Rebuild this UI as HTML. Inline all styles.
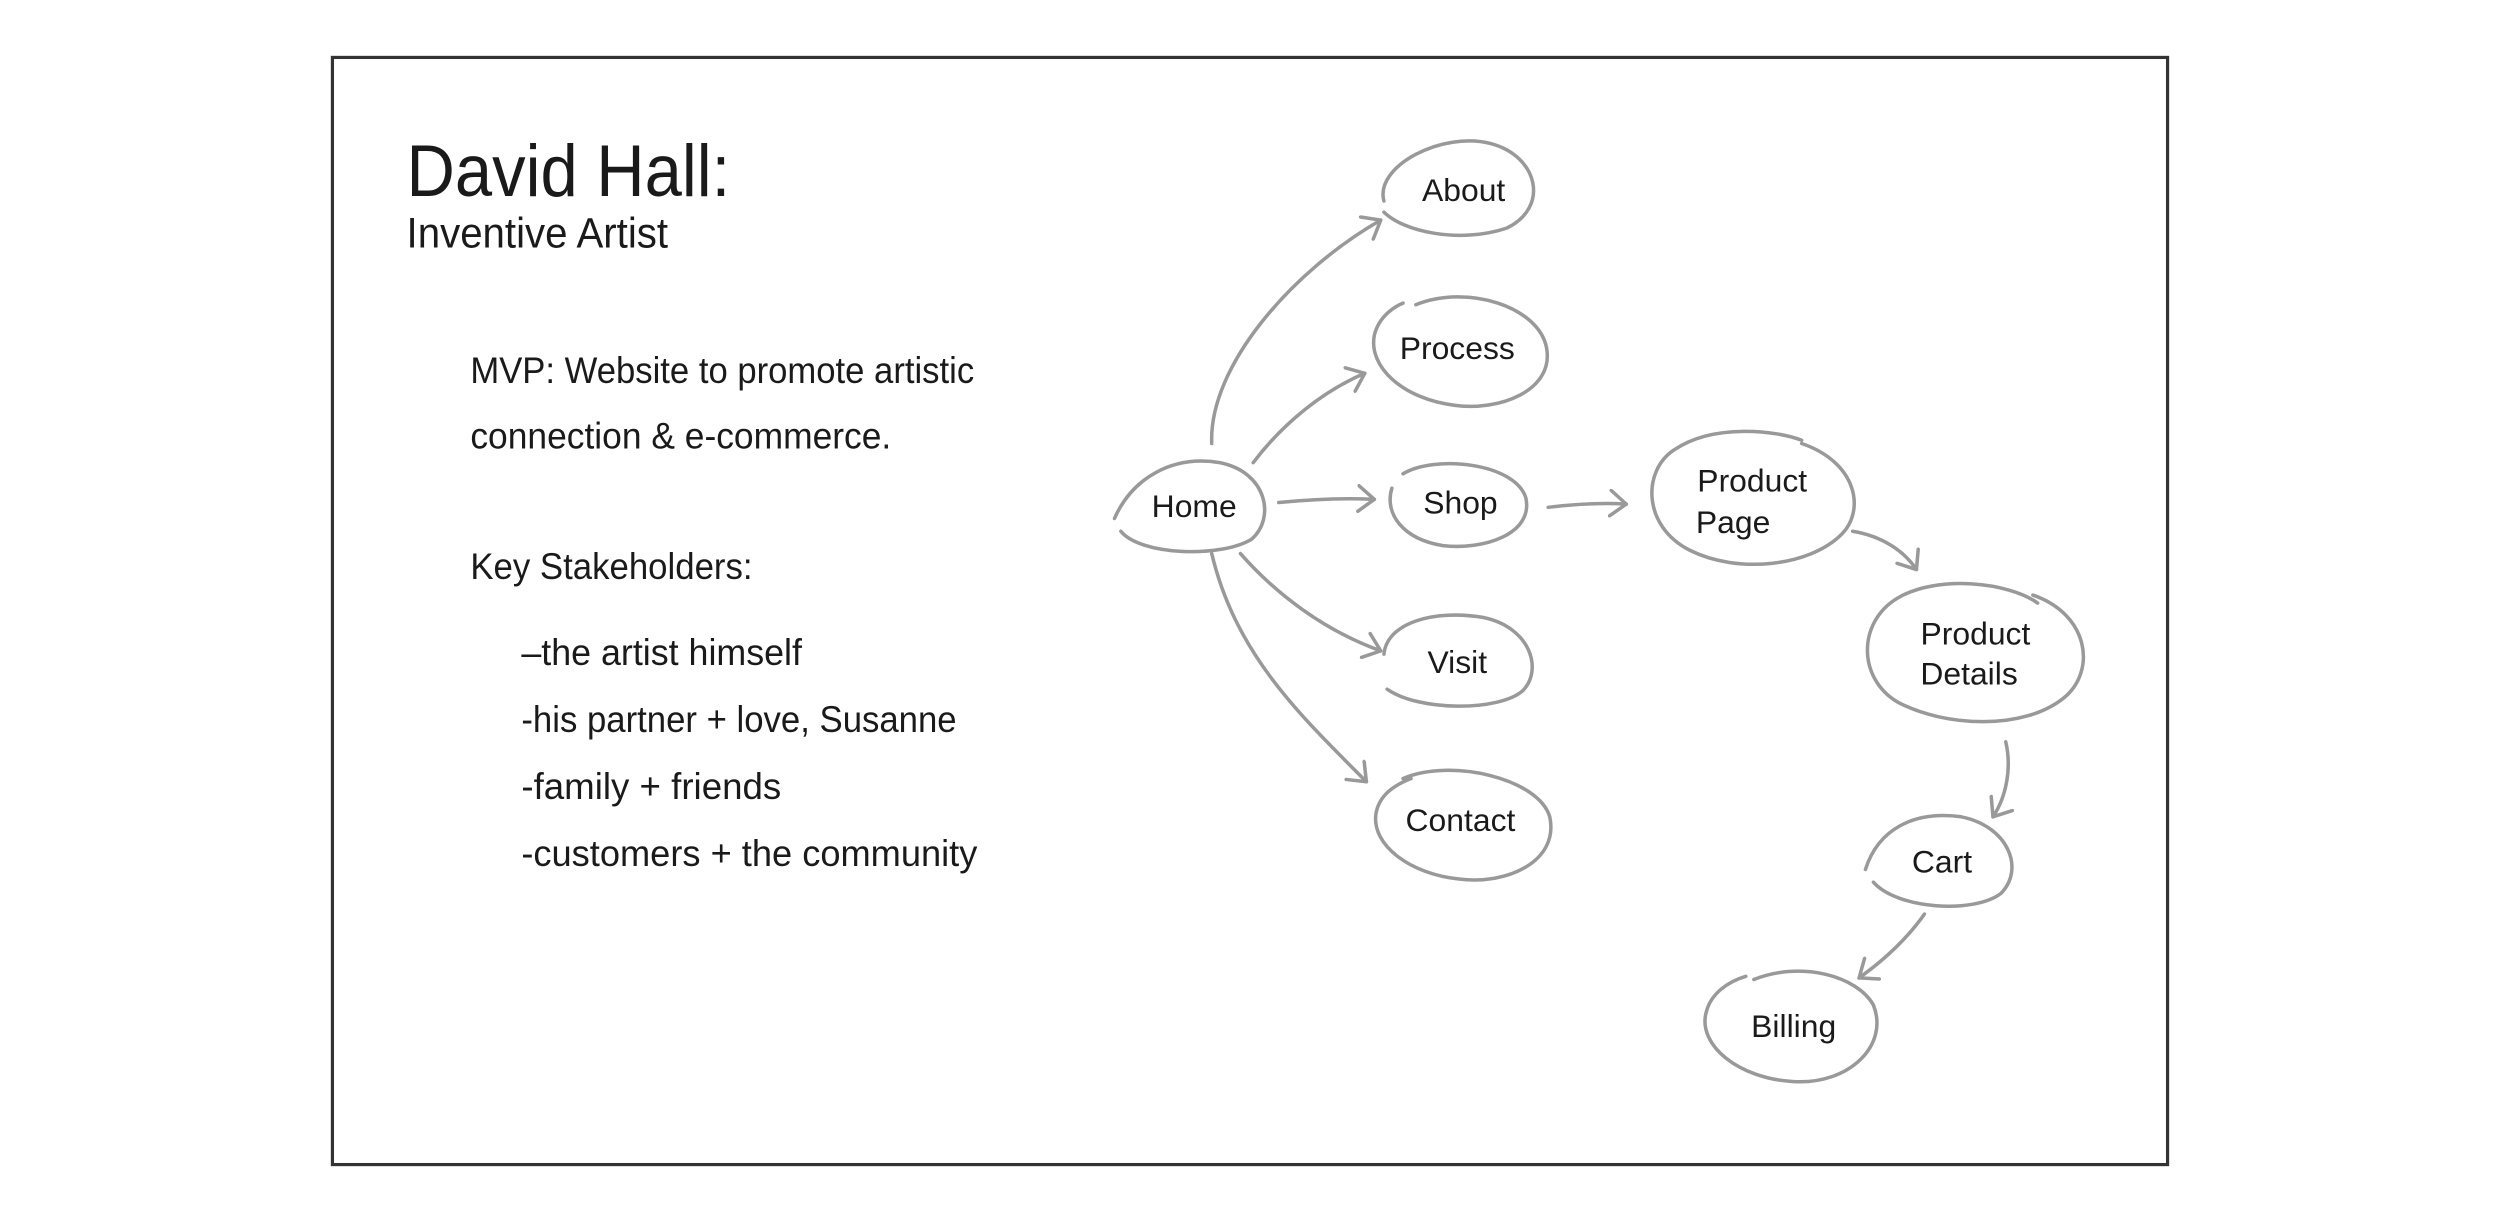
<!DOCTYPE html>
<html><head><meta charset="utf-8"><style>
html,body{margin:0;padding:0;background:#fff;width:2500px;height:1222px;overflow:hidden}
svg{display:block}
text{font-family:"Liberation Sans",sans-serif;fill:#1a1a1a}
</style></head><body>
<svg width="2500" height="1222" viewBox="0 0 1568 766" preserveAspectRatio="none" xmlns="http://www.w3.org/2000/svg">
<defs>
<marker id="a" markerWidth="16" markerHeight="18" refX="11" refY="9" orient="auto" markerUnits="userSpaceOnUse">
<path d="M1,1 L11,9 L1,17" fill="none" stroke="#999" stroke-width="2.2" stroke-linecap="round" stroke-linejoin="round"/>
</marker>
</defs>
<rect x="208.5" y="36" width="1151" height="694" fill="none" stroke="#333" stroke-width="2"/>

<text x="255" y="123" font-size="46" textLength="203" lengthAdjust="spacingAndGlyphs">David Hall:</text>
<text x="255" y="155" font-size="27" textLength="164" lengthAdjust="spacingAndGlyphs">Inventive Artist</text>
<text x="295" y="240" font-size="23" textLength="316" lengthAdjust="spacingAndGlyphs"><tspan>MVP:</tspan> Website to promote artistic</text>
<text x="295" y="281" font-size="23" textLength="264" lengthAdjust="spacingAndGlyphs">connection &amp; e-commerce.</text>
<text x="295" y="363" font-size="23" textLength="177" lengthAdjust="spacingAndGlyphs">Key Stakeholders:</text>
<text x="327" y="417" font-size="23" textLength="176" lengthAdjust="spacingAndGlyphs">–the artist himself</text>
<text x="327" y="459" font-size="23" textLength="273" lengthAdjust="spacingAndGlyphs">-his partner + love, Susanne</text>
<text x="327" y="501" font-size="23" textLength="163" lengthAdjust="spacingAndGlyphs">-family + friends</text>
<text x="327" y="543" font-size="23" textLength="286" lengthAdjust="spacingAndGlyphs">-customers + the community</text>

<g fill="none" stroke="#999" stroke-width="2.2" stroke-linecap="round">
<path d="M868,126 C862,104 905,82 935,90 C965,98 972,130 945,143 C915,153 880,145 868,133"/>
<path d="M888,191 C920,178 965,192 970,218 C975,245 940,258 912,254 C880,250 858,230 862,210 C865,198 875,192 880,190"/>
<path d="M880,297 C900,285 950,290 957,312 C962,335 930,345 905,342 C880,338 868,322 873,306"/>
<path d="M868,410 C870,390 900,382 930,387 C960,393 968,420 955,433 C940,446 890,446 870,432"/>
<path d="M880,488 C910,475 965,488 972,512 C978,540 945,555 915,551 C885,548 860,530 863,510 C865,498 875,492 885,488"/>
<path d="M699,325 C710,300 735,285 765,290 C795,296 800,325 785,338 C765,350 715,348 703,333"/>
<path d="M1130,278 C1165,290 1170,320 1155,335 C1135,355 1090,360 1060,345 C1030,330 1030,295 1050,282 C1075,265 1115,270 1130,276"/>
<path d="M1275,373 C1310,385 1315,420 1295,437 C1270,458 1220,456 1190,440 C1165,425 1165,390 1190,375 C1215,360 1260,365 1278,378"/>
<path d="M1170,545 C1178,520 1200,508 1230,512 C1260,518 1270,545 1255,560 C1238,573 1190,570 1175,553"/>
<path d="M1100,614 C1130,602 1165,612 1175,630 C1185,655 1160,680 1125,678 C1090,676 1065,655 1070,635 C1073,622 1085,615 1095,612"/>
<path d="M760,278 C758,230 810,170 866,138" marker-end="url(#a)"/>
<path d="M786,290 C805,265 830,245 856,234" marker-end="url(#a)"/>
<path d="M802,315 C822,313 842,312 862,313" marker-end="url(#a)"/>
<path d="M778,347 C800,372 830,395 866,408" marker-end="url(#a)"/>
<path d="M760,347 C775,410 815,448 857,490" marker-end="url(#a)"/>
<path d="M971,318 C988,316 1004,315 1020,316" marker-end="url(#a)"/>
<path d="M1162,333 C1180,336 1194,345 1202,357" marker-end="url(#a)"/>
<path d="M1258,465 C1262,482 1258,500 1250,512" marker-end="url(#a)"/>
<path d="M1207,573 C1195,590 1180,603 1166,613" marker-end="url(#a)"/>
</g>
<g font-size="20" text-anchor="middle">
<text x="918" y="126">About</text>
<text x="914" y="225">Process</text>
<text x="916" y="322">Shop</text>
<text x="914" y="422">Visit</text>
<text x="916" y="521">Contact</text>
<text x="749" y="324">Home</text>
<text x="1099" y="308">Product</text>
<text x="1087" y="334">Page</text>
<text x="1239" y="404">Product</text>
<text x="1235" y="429">Details</text>
<text x="1218" y="547">Cart</text>
<text x="1125" y="650">Billing</text>
</g>
</svg>
</body></html>
